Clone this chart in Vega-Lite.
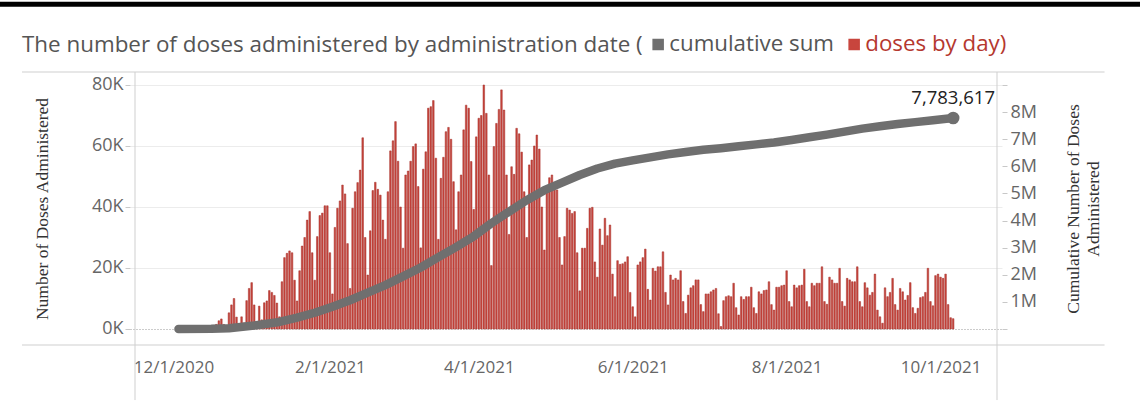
{
  "$schema": "https://vega.github.io/schema/vega-lite/v6.json",
  "width": 872,
  "height": 273,
  "autosize": {"type": "none"},
  "padding": {"left": 130, "top": 72, "right": 138, "bottom": 67},
  "background": "white",
  "config": {"view": {"stroke": null}, "font": "Open Sans"},
  "title": {"text": "The number of doses administered by administration date (", "anchor": "start", "frame": "group", "dx": -108, "offset": 0, "dy": 55, "fontSize": 22.4, "fontWeight": "normal", "color": "#555555", "font": "Open Sans"},
  "datasets": {
    "daily": [
      {"date":"2020-12-14","doses":300},{"date":"2020-12-15","doses":800},{"date":"2020-12-16","doses":1500},{"date":"2020-12-17","doses":2700},{"date":"2020-12-18","doses":3300},{"date":"2020-12-19","doses":1500},{"date":"2020-12-20","doses":800},
      {"date":"2020-12-21","doses":5300},{"date":"2020-12-22","doses":7900},{"date":"2020-12-23","doses":10000},{"date":"2020-12-24","doses":3900},{"date":"2020-12-25","doses":600},{"date":"2020-12-26","doses":4000},{"date":"2020-12-27","doses":2000},
      {"date":"2020-12-28","doses":9300},{"date":"2020-12-29","doses":13300},{"date":"2020-12-30","doses":15200},{"date":"2020-12-31","doses":7900},{"date":"2021-01-01","doses":1500},{"date":"2021-01-02","doses":7500},{"date":"2021-01-03","doses":3000},
      {"date":"2021-01-04","doses":8600},{"date":"2021-01-05","doses":9200},{"date":"2021-01-06","doses":12600},{"date":"2021-01-07","doses":12000},{"date":"2021-01-08","doses":11000},{"date":"2021-01-09","doses":8500},{"date":"2021-01-10","doses":4000},
      {"date":"2021-01-11","doses":15500},{"date":"2021-01-12","doses":23400},{"date":"2021-01-13","doses":24800},{"date":"2021-01-14","doses":25600},{"date":"2021-01-15","doses":25000},{"date":"2021-01-16","doses":16000},{"date":"2021-01-17","doses":9200},
      {"date":"2021-01-18","doses":19100},{"date":"2021-01-19","doses":27200},{"date":"2021-01-20","doses":30000},{"date":"2021-01-21","doses":35700},{"date":"2021-01-22","doses":38500},{"date":"2021-01-23","doses":25000},{"date":"2021-01-24","doses":16000},
      {"date":"2021-01-25","doses":30300},{"date":"2021-01-26","doses":37200},{"date":"2021-01-27","doses":38000},{"date":"2021-01-28","doses":40400},{"date":"2021-01-29","doses":40400},{"date":"2021-01-30","doses":25000},{"date":"2021-01-31","doses":11500},
      {"date":"2021-02-01","doses":33300},{"date":"2021-02-02","doses":39600},{"date":"2021-02-03","doses":42000},{"date":"2021-02-04","doses":47200},{"date":"2021-02-05","doses":44300},{"date":"2021-02-06","doses":28000},{"date":"2021-02-07","doses":13300},
      {"date":"2021-02-08","doses":39600},{"date":"2021-02-09","doses":45000},{"date":"2021-02-10","doses":48000},{"date":"2021-02-11","doses":52100},{"date":"2021-02-12","doses":62700},{"date":"2021-02-13","doses":30000},{"date":"2021-02-14","doses":17700},
      {"date":"2021-02-15","doses":32200},{"date":"2021-02-16","doses":45400},{"date":"2021-02-17","doses":48100},{"date":"2021-02-18","doses":45800},{"date":"2021-02-19","doses":43900},{"date":"2021-02-20","doses":35700},{"date":"2021-02-21","doses":29400},
      {"date":"2021-02-22","doses":45000},{"date":"2021-02-23","doses":58400},{"date":"2021-02-24","doses":61700},{"date":"2021-02-25","doses":68000},{"date":"2021-02-26","doses":55000},{"date":"2021-02-27","doses":40000},{"date":"2021-02-28","doses":26500},
      {"date":"2021-03-01","doses":50500},{"date":"2021-03-02","doses":51800},{"date":"2021-03-03","doses":55000},{"date":"2021-03-04","doses":59800},{"date":"2021-03-05","doses":60700},{"date":"2021-03-06","doses":46700},{"date":"2021-03-07","doses":26600},
      {"date":"2021-03-08","doses":52400},{"date":"2021-03-09","doses":58100},{"date":"2021-03-10","doses":72400},{"date":"2021-03-11","doses":72900},{"date":"2021-03-12","doses":74900},{"date":"2021-03-13","doses":56000},{"date":"2021-03-14","doses":29400},
      {"date":"2021-03-15","doses":49400},{"date":"2021-03-16","doses":56300},{"date":"2021-03-17","doses":64700},{"date":"2021-03-18","doses":66100},{"date":"2021-03-19","doses":62200},{"date":"2021-03-20","doses":48300},{"date":"2021-03-21","doses":32500},
      {"date":"2021-03-22","doses":45000},{"date":"2021-03-23","doses":50500},{"date":"2021-03-24","doses":65300},{"date":"2021-03-25","doses":73400},{"date":"2021-03-26","doses":72400},{"date":"2021-03-27","doses":54900},{"date":"2021-03-28","doses":39200},
      {"date":"2021-03-29","doses":63000},{"date":"2021-03-30","doses":69100},{"date":"2021-03-31","doses":70000},{"date":"2021-04-01","doses":80000},{"date":"2021-04-02","doses":70700},{"date":"2021-04-03","doses":50500},{"date":"2021-04-04","doses":20800},
      {"date":"2021-04-05","doses":59800},{"date":"2021-04-06","doses":67400},{"date":"2021-04-07","doses":72000},{"date":"2021-04-08","doses":78400},{"date":"2021-04-09","doses":71800},{"date":"2021-04-10","doses":50500},{"date":"2021-04-11","doses":31000},
      {"date":"2021-04-12","doses":53200},{"date":"2021-04-13","doses":50700},{"date":"2021-04-14","doses":65800},{"date":"2021-04-15","doses":64000},{"date":"2021-04-16","doses":58000},{"date":"2021-04-17","doses":45000},{"date":"2021-04-18","doses":30000},
      {"date":"2021-04-19","doses":53800},{"date":"2021-04-20","doses":55400},{"date":"2021-04-21","doses":60000},{"date":"2021-04-22","doses":63600},{"date":"2021-04-23","doses":59000},{"date":"2021-04-24","doses":40000},{"date":"2021-04-25","doses":25900},
      {"date":"2021-04-26","doses":46100},{"date":"2021-04-27","doses":49600},{"date":"2021-04-28","doses":50500},{"date":"2021-04-29","doses":46100},{"date":"2021-04-30","doses":45600},{"date":"2021-05-01","doses":30000},{"date":"2021-05-02","doses":21000},
      {"date":"2021-05-03","doses":30300},{"date":"2021-05-04","doses":39600},{"date":"2021-05-05","doses":39000},{"date":"2021-05-06","doses":37900},{"date":"2021-05-07","doses":38500},{"date":"2021-05-08","doses":25000},{"date":"2021-05-09","doses":12500},
      {"date":"2021-05-10","doses":26500},{"date":"2021-05-11","doses":26500},{"date":"2021-05-12","doses":33000},{"date":"2021-05-13","doses":39600},{"date":"2021-05-14","doses":39900},{"date":"2021-05-15","doses":22000},{"date":"2021-05-16","doses":17000},
      {"date":"2021-05-17","doses":32800},{"date":"2021-05-18","doses":27500},{"date":"2021-05-19","doses":36300},{"date":"2021-05-20","doses":30600},{"date":"2021-05-21","doses":34100},{"date":"2021-05-22","doses":18000},{"date":"2021-05-23","doses":10600},
      {"date":"2021-05-24","doses":22400},{"date":"2021-05-25","doses":21200},{"date":"2021-05-26","doses":21400},{"date":"2021-05-27","doses":22000},{"date":"2021-05-28","doses":23700},{"date":"2021-05-29","doses":12000},{"date":"2021-05-30","doses":7300},
      {"date":"2021-05-31","doses":4000},{"date":"2021-06-01","doses":21000},{"date":"2021-06-02","doses":22000},{"date":"2021-06-03","doses":23400},{"date":"2021-06-04","doses":26200},{"date":"2021-06-05","doses":13000},{"date":"2021-06-06","doses":9500},
      {"date":"2021-06-07","doses":19900},{"date":"2021-06-08","doses":19000},{"date":"2021-06-09","doses":20400},{"date":"2021-06-10","doses":20400},{"date":"2021-06-11","doses":25300},{"date":"2021-06-12","doses":12000},{"date":"2021-06-13","doses":7900},
      {"date":"2021-06-14","doses":17700},{"date":"2021-06-15","doses":16100},{"date":"2021-06-16","doses":16600},{"date":"2021-06-17","doses":16100},{"date":"2021-06-18","doses":19100},{"date":"2021-06-19","doses":9000},{"date":"2021-06-20","doses":5100},
      {"date":"2021-06-21","doses":11100},{"date":"2021-06-22","doses":13500},{"date":"2021-06-23","doses":14200},{"date":"2021-06-24","doses":16100},{"date":"2021-06-25","doses":16100},{"date":"2021-06-26","doses":8000},{"date":"2021-06-27","doses":5700},
      {"date":"2021-06-28","doses":11500},{"date":"2021-06-29","doses":11500},{"date":"2021-06-30","doses":12200},{"date":"2021-07-01","doses":12800},{"date":"2021-07-02","doses":13300},{"date":"2021-07-03","doses":5000},{"date":"2021-07-04","doses":800},
      {"date":"2021-07-05","doses":9300},{"date":"2021-07-06","doses":10600},{"date":"2021-07-07","doses":10900},{"date":"2021-07-08","doses":10600},{"date":"2021-07-09","doses":15000},{"date":"2021-07-10","doses":7000},{"date":"2021-07-11","doses":4600},
      {"date":"2021-07-12","doses":10600},{"date":"2021-07-13","doses":9700},{"date":"2021-07-14","doses":10600},{"date":"2021-07-15","doses":10600},{"date":"2021-07-16","doses":13700},{"date":"2021-07-17","doses":7000},{"date":"2021-07-18","doses":5100},
      {"date":"2021-07-19","doses":12200},{"date":"2021-07-20","doses":11500},{"date":"2021-07-21","doses":12600},{"date":"2021-07-22","doses":12800},{"date":"2021-07-23","doses":15500},{"date":"2021-07-24","doses":8000},{"date":"2021-07-25","doses":6200},
      {"date":"2021-07-26","doses":13700},{"date":"2021-07-27","doses":13700},{"date":"2021-07-28","doses":14200},{"date":"2021-07-29","doses":14400},{"date":"2021-07-30","doses":19100},{"date":"2021-07-31","doses":9000},{"date":"2021-08-01","doses":7300},
      {"date":"2021-08-02","doses":14400},{"date":"2021-08-03","doses":13500},{"date":"2021-08-04","doses":14200},{"date":"2021-08-05","doses":14400},{"date":"2021-08-06","doses":19600},{"date":"2021-08-07","doses":9000},{"date":"2021-08-08","doses":7300},
      {"date":"2021-08-09","doses":15000},{"date":"2021-08-10","doses":14200},{"date":"2021-08-11","doses":15000},{"date":"2021-08-12","doses":15000},{"date":"2021-08-13","doses":20400},{"date":"2021-08-14","doses":9000},{"date":"2021-08-15","doses":8100},
      {"date":"2021-08-16","doses":17000},{"date":"2021-08-17","doses":16100},{"date":"2021-08-18","doses":15000},{"date":"2021-08-19","doses":15000},{"date":"2021-08-20","doses":19900},{"date":"2021-08-21","doses":9000},{"date":"2021-08-22","doses":7500},
      {"date":"2021-08-23","doses":16600},{"date":"2021-08-24","doses":16100},{"date":"2021-08-25","doses":15500},{"date":"2021-08-26","doses":15500},{"date":"2021-08-27","doses":20400},{"date":"2021-08-28","doses":9000},{"date":"2021-08-29","doses":7300},
      {"date":"2021-08-30","doses":15200},{"date":"2021-08-31","doses":13500},{"date":"2021-09-01","doses":11100},{"date":"2021-09-02","doses":12000},{"date":"2021-09-03","doses":18000},{"date":"2021-09-04","doses":6200},{"date":"2021-09-05","doses":4000},
      {"date":"2021-09-06","doses":1900},{"date":"2021-09-07","doses":13500},{"date":"2021-09-08","doses":10600},{"date":"2021-09-09","doses":12000},{"date":"2021-09-10","doses":16600},{"date":"2021-09-11","doses":8000},{"date":"2021-09-12","doses":6200},
      {"date":"2021-09-13","doses":13300},{"date":"2021-09-14","doses":12200},{"date":"2021-09-15","doses":9500},{"date":"2021-09-16","doses":11000},{"date":"2021-09-17","doses":15200},{"date":"2021-09-18","doses":7000},{"date":"2021-09-19","doses":5100},
      {"date":"2021-09-20","doses":6800},{"date":"2021-09-21","doses":10300},{"date":"2021-09-22","doses":10600},{"date":"2021-09-23","doses":12000},{"date":"2021-09-24","doses":19900},{"date":"2021-09-25","doses":9000},{"date":"2021-09-26","doses":7600},
      {"date":"2021-09-27","doses":17500},{"date":"2021-09-28","doses":18000},{"date":"2021-09-29","doses":17000},{"date":"2021-09-30","doses":16600},{"date":"2021-10-01","doses":18000},{"date":"2021-10-02","doses":8000},{"date":"2021-10-03","doses":3700},
      {"date":"2021-10-04","doses":3400}
    ],
    "cumulative": [
      {"date":"2020-12-01","cum":0},{"date":"2020-12-14","cum":5000},{"date":"2020-12-21","cum":25000},{"date":"2020-12-31","cum":130000},
      {"date":"2021-01-10","cum":260000},{"date":"2021-01-17","cum":420000},{"date":"2021-01-24","cum":600000},{"date":"2021-01-31","cum":820000},
      {"date":"2021-02-07","cum":1060000},{"date":"2021-02-14","cum":1340000},{"date":"2021-02-21","cum":1620000},{"date":"2021-02-28","cum":1940000},
      {"date":"2021-03-07","cum":2270000},{"date":"2021-03-14","cum":2650000},{"date":"2021-03-21","cum":3020000},{"date":"2021-03-28","cum":3420000},
      {"date":"2021-04-04","cum":3900000},{"date":"2021-04-11","cum":4330000},{"date":"2021-04-18","cum":4750000},{"date":"2021-04-25","cum":5120000},
      {"date":"2021-05-02","cum":5400000},{"date":"2021-05-09","cum":5680000},{"date":"2021-05-16","cum":5920000},{"date":"2021-05-23","cum":6100000},
      {"date":"2021-05-30","cum":6220000},{"date":"2021-06-06","cum":6330000},{"date":"2021-06-13","cum":6440000},{"date":"2021-06-20","cum":6530000},
      {"date":"2021-06-27","cum":6610000},{"date":"2021-07-04","cum":6670000},{"date":"2021-07-11","cum":6740000},{"date":"2021-07-18","cum":6810000},
      {"date":"2021-07-25","cum":6880000},{"date":"2021-08-01","cum":6970000},{"date":"2021-08-08","cum":7070000},{"date":"2021-08-15","cum":7170000},
      {"date":"2021-08-22","cum":7280000},{"date":"2021-08-29","cum":7390000},{"date":"2021-09-05","cum":7480000},{"date":"2021-09-12","cum":7560000},
      {"date":"2021-09-19","cum":7630000},{"date":"2021-09-26","cum":7700000},{"date":"2021-10-04","cum":7783617}
    ],
    "last": [{"date":"2021-10-04","cum":7783617}],
    "frame": [{"part":"frame"}]
  },
  "layer": [
    {
      "layer": [
        {
          "data": {"name": "daily"},
          "mark": {"type": "bar", "width": 1.6, "stroke": "#a5302a", "strokeWidth": 0.5},
          "encoding": {
            "x": {"field": "date", "type": "temporal",
              "scale": {"type": "utc", "domain": [{"year":2020,"month":11,"date":13,"hours":18,"minutes":30,"utc":true},{"year":2021,"month":10,"date":21,"hours":9,"utc":true}]},
              "axis": {"values": [{"year":2020,"month":12,"date":1,"utc":true},{"year":2021,"month":2,"date":1,"utc":true},{"year":2021,"month":4,"date":1,"utc":true},{"year":2021,"month":6,"date":1,"utc":true},{"year":2021,"month":8,"date":1,"utc":true},{"year":2021,"month":10,"date":1,"utc":true}],
                "labelExpr": "utcFormat(datum.value, '%-m/%-d/%Y')", "labelFont": "Open Sans", "labelFontSize": 17, "labelColor": "#666666", "ticks": false, "domain": false, "grid": false, "labelPadding": 14, "labelOffset": -5, "title": null, "labelOverlap": false}},
            "y": {"field": "doses", "type": "quantitative",
              "scale": {"domain": [-5246, 84262], "nice": false, "zero": false},
              "axis": {"values": [0,20000,40000,60000,80000], "labelExpr": "format(datum.value/1000, 'd') + 'K'", "labelOverlap": false,
                "title": "Number of Doses Administered", "titleFont": "Liberation Serif", "titleFontSize": 17.5, "titleFontWeight": "normal", "titleColor": "#333333", "titlePadding": 40,
                "labelFont": "Open Sans", "labelFontSize": 18, "labelColor": "#666666", "labelPadding": 2, "tickSize": 5, "tickColor": "#c8c8c8", "domain": false, "grid": true,
                "gridColor": {"condition": {"test": "datum.value === 0", "value": "#999999"}, "value": "#ececec"},
                "gridDash": {"condition": {"test": "datum.value === 0", "value": [1, 2]}, "value": []}}},
            "color": {"datum": "doses by day)", "type": "nominal",
              "scale": {"domain": ["cumulative sum", "doses by day)"], "range": ["#6f6f6f", "#c8453d"]},
              "legend": {"orient": "none", "legendX": 517, "legendY": -39, "direction": "horizontal", "title": null, "symbolType": "square", "symbolSize": 100, "labelFontSize": 22.3, "labelFont": "Open Sans", "labelLimit": 400, "columnPadding": 9, "labelOffset": 0,
                "labelColor": {"expr": "datum.value === 'cumulative sum' ? '#555555' : '#b5382f'"},
                "encode": {"labels": {"fill": {"condition": {"test": "datum.value === 'cumulative sum'", "value": "#555555"}, "value": "#b5382f"}}}}}
          }
        },
        {
          "data": {"name": "frame"},
          "mark": {"type": "rule", "color": "#000000", "strokeWidth": 5},
          "encoding": {
            "x": {"datum": {"year":2020,"month":9,"date":1,"utc":true}, "type": "temporal"},
            "x2": {"datum": {"year":2022,"month":1,"date":1,"utc":true}},
            "y": {"datum": 106500, "type": "quantitative"}
          }
        },
        {
          "data": {"name": "frame"},
          "mark": {"type": "rule", "color": "#cfcfcf", "strokeWidth": 1},
          "encoding": {
            "x": {"datum": {"year":2020,"month":9,"date":30,"utc":true}, "type": "temporal"},
            "x2": {"datum": {"year":2021,"month":12,"date":3,"utc":true}},
            "y": {"datum": 84262, "type": "quantitative"}
          }
        },
        {
          "data": {"name": "frame"},
          "mark": {"type": "rule", "color": "#cfcfcf", "strokeWidth": 1},
          "encoding": {
            "x": {"datum": {"year":2020,"month":9,"date":30,"utc":true}, "type": "temporal"},
            "x2": {"datum": {"year":2021,"month":12,"date":3,"utc":true}},
            "y": {"datum": -5246, "type": "quantitative"}
          }
        },
        {
          "data": {"name": "frame"},
          "mark": {"type": "rule", "color": "#cfcfcf", "strokeWidth": 1},
          "encoding": {
            "x": {"datum": {"year":2020,"month":11,"date":13,"hours":18,"minutes":30,"utc":true}, "type": "temporal"},
            "y": {"datum": 84262, "type": "quantitative"},
            "y2": {"datum": -23300}
          }
        },
        {
          "data": {"name": "frame"},
          "mark": {"type": "rule", "color": "#cfcfcf", "strokeWidth": 1},
          "encoding": {
            "x": {"datum": {"year":2021,"month":10,"date":21,"hours":9,"utc":true}, "type": "temporal"},
            "y": {"datum": 84262, "type": "quantitative"},
            "y2": {"datum": -23300}
          }
        }
      ]
    },
    {
      "encoding": {
        "x": {"field": "date", "type": "temporal"},
        "y": {"field": "cum", "type": "quantitative",
          "scale": {"domain": [-590200, 9479500], "nice": false, "zero": false},
          "axis": {"orient": "right", "values": [0,1000000,2000000,3000000,4000000,5000000,6000000,7000000,8000000,9000000], "labelOverlap": false,
            "labelExpr": "datum.value >= 1000000 && datum.value <= 8000000 ? format(datum.value/1000000, 'd') + 'M' : ''",
            "title": ["Cumulative Number of Doses", "Administered"], "titleAngle": 270, "titleFont": "Liberation Serif", "titleFontSize": 17.5, "titleFontWeight": "normal", "titleColor": "#333333", "titlePadding": 26, "titleLineHeight": 20,
            "labelFont": "Open Sans", "labelFontSize": 18, "labelColor": "#666666", "labelPadding": 3, "tickSize": 5, "tickColor": "#c8c8c8", "domain": false, "grid": false}}
      },
      "layer": [
        {
          "data": {"name": "cumulative"},
          "mark": {"type": "line", "strokeWidth": 8.5, "strokeCap": "round", "strokeJoin": "round"},
          "encoding": {
            "color": {"datum": "cumulative sum", "type": "nominal",
              "legend": {"orient": "none", "legendX": 517, "legendY": -39, "direction": "horizontal", "title": null, "symbolType": "square", "symbolSize": 100, "labelFontSize": 22.3, "labelFont": "Open Sans", "labelLimit": 400, "columnPadding": 9, "labelOffset": 0,
                "labelColor": {"expr": "datum.value === 'cumulative sum' ? '#555555' : '#b5382f'"},
                "encode": {"labels": {"fill": {"condition": {"test": "datum.value === 'cumulative sum'", "value": "#555555"}, "value": "#b5382f"}}}}}
          }
        },
        {
          "data": {"name": "last"},
          "mark": {"type": "point", "filled": true, "size": 160, "color": "#6f6f6f", "opacity": 1}
        },
        {
          "data": {"name": "last"},
          "mark": {"type": "text", "dy": -20, "fontSize": 18.5, "color": "#222222", "font": "Open Sans"},
          "encoding": {
            "text": {"field": "cum", "type": "quantitative", "format": ","}
          }
        }
      ]
    }
  ],
  "resolve": {"scale": {"y": "independent"}}
}
